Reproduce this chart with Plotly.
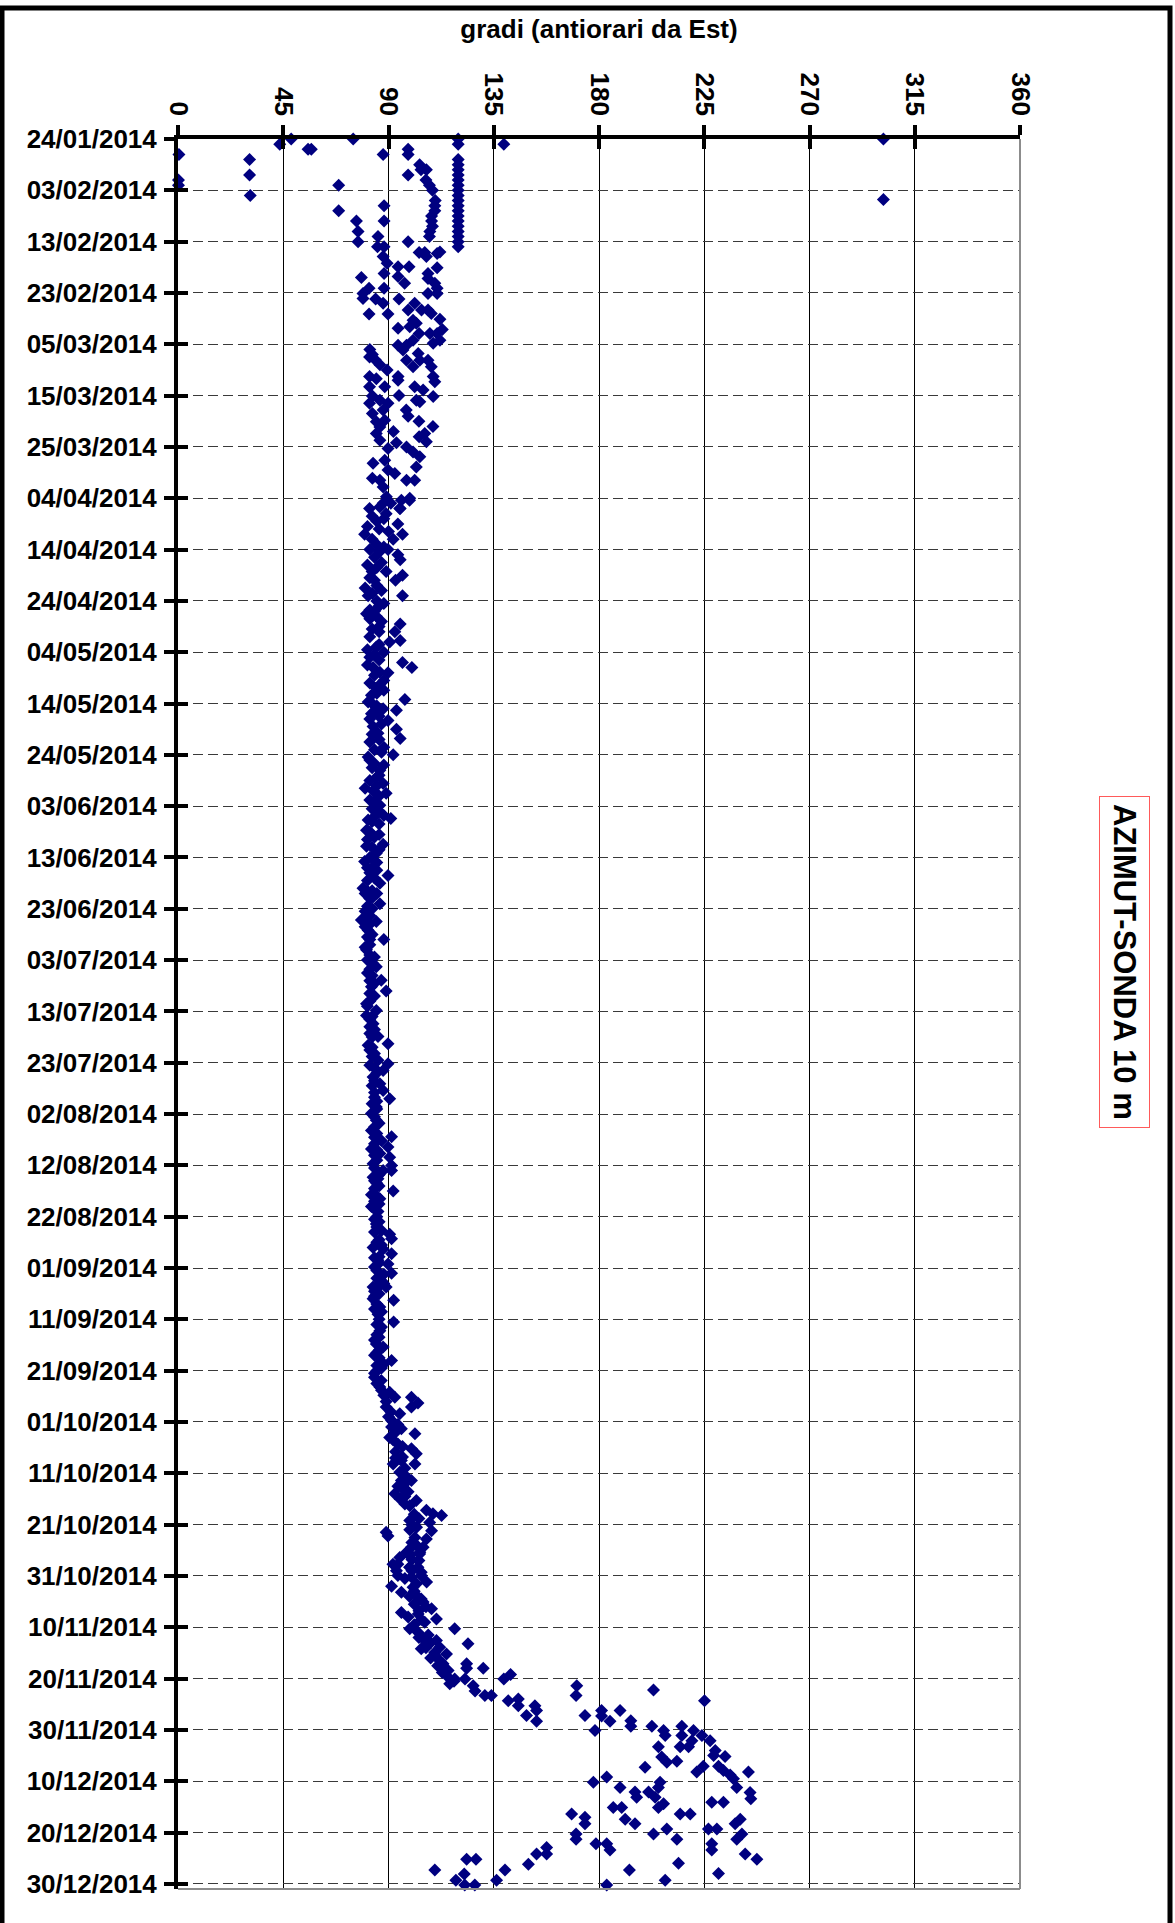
import pandas as pd
import plotly.graph_objects as go

# ---------------- data ----------------
START_DATE = "2014-01-24"
END_DATE = "2014-12-31"
X_TICKS = [0, 45, 90, 135, 180, 225, 270, 315, 360]
TITLE = "gradi (antiorari da Est)"
SERIES_LABEL = "AZIMUT-SONDA 10 m"

# (days after 24/01/2014, azimuth in degrees)
jan_feb = [(0, 48.4), (0, 74.9), (0, 119.8), (0, 301.6), (1, 43.5), (1, 119.8), (1, 139.3),
           (2, 55.6), (2, 57.0), (2, 98.4), (3, 0.4), (3, 87.7), (3, 98.4), (4, 30.6), (4, 119.8),
           (5, 103.3), (5, 119.8), (6, 103.9), (6, 106.2), (6, 119.8), (7, 30.6), (7, 98.4),
           (7, 119.8), (8, 0.2), (8, 106.0), (8, 119.8), (9, 0.2), (9, 68.7), (9, 107.5),
           (9, 119.8), (10, 108.8), (10, 119.8), (11, 30.9), (11.8, 301.6), (11, 119.8),
           (12, 110.0), (12, 119.8), (13, 88.1), (13, 109.8), (13, 119.8), (14, 68.7),
           (14, 109.8), (14, 119.8), (15, 108.4), (15, 119.8), (16, 76.3), (16, 88.1),
           (16, 108.4), (16, 119.8), (17, 108.8), (17, 119.8), (18, 77.0), (18, 107.7),
           (18, 119.8), (19, 85.5), (19, 107.5), (19, 119.8), (20, 77.0), (20, 98.4),
           (20, 119.8), (21, 85.3), (21, 88.1), (21, 119.8)]

feb_mar = [(22.1, 103.1), (22.1, 105.5), (22.9, 106.2), (22.3, 110.8), (22, 112.0), (22.9, 87.7),
           (24.2, 89.4), (24.9, 94.1), (24.9, 98.8), (25.1, 110.8), (26.2, 88.1), (26.2, 106.9),
           (26.8, 94.1), (27, 78.4), (27.2, 106.9), (28.1, 96.9), (28.1, 109.8), (29.1, 81.7),
           (29.1, 88.1), (29.1, 110.8), (30.1, 79.1), (30.1, 106.9), (30.1, 110.8), (31.1, 79.1),
           (31.2, 84.5), (31.2, 94.5), (32, 87.7), (32, 101.2), (33.3, 98.4), (33.3, 104.1),
           (33.3, 106.9), (34, 108.3), (34.1, 81.7), (34.1, 89.8), (35.1, 112.0), (35.3, 100.5),
           (35.9, 101.9), (36.6, 99.1), (36.9, 94.1), (37.1, 113.0), (37.9, 103.1), (37.9, 107.7),
           (37.9, 110.8), (39.2, 100.5), (39.2, 112.0), (39.8, 109.1)]

mar_apr = [(40.2, 97.7), (40.2, 94.1), (41.1, 96.2), (41.8, 102.7), (41.0, 82.0), (42.0, 83.1),
           (42.5, 81.9), (43.0, 84.3), (43.1, 97.7), (43.1, 103.4), (43.1, 106.9), (44.0, 86.3),
           (44.4, 100.5), (44.4, 108.3), (45.0, 89.4), (46.3, 81.9), (46.3, 109.1), (46.7, 84.8),
           (46.3, 94.1), (47.0, 94.1), (47.3, 109.8), (48.3, 101.2), (48.3, 88.4), (48.3, 81.9),
           (48.9, 104.8), (50.1, 83.1), (50.0, 94.5), (50.2, 109.1), (50.9, 101.9), (50.9, 86.3),
           (51.2, 103.4), (51.5, 81.9), (51.5, 89.8), (52.8, 87.7), (52.8, 97.6), (53.5, 83.1),
           (54.0, 98.4), (54.8, 88.4), (55.1, 84.8), (55.0, 103.0), (56.0, 109.0), (56.1, 86.3),
           (57.0, 92.1), (57.4, 84.8), (58.0, 103.1), (57.4, 105.5), (59.0, 106.2), (58.7, 86.3),
           (59.2, 93.4), (60.0, 97.7), (60.3, 89.8), (61.0, 100.5), (61.9, 103.4), (62.6, 88.4),
           (63.2, 83.4), (63.9, 101.9), (64.5, 89.8), (65.2, 92.7), (66.5, 101.2), (66.5, 97.7),
           (66.1, 83.1), (66.5, 86.3), (67.8, 87.7), (69.7, 89.1), (71.7, 86.3), (72.0, 81.9),
           (72.0, 94.8), (70.4, 95.5), (70.0, 99.1), (70.4, 99.0), (71.0, 87.7), (71.0, 91.0),
           (72.0, 95.0), (73.0, 89.0), (74.5, 85.0), (75.0, 94.0), (76.0, 86.0), (77.0, 96.0),
           (77.0, 79.8), (78.0, 92.0), (78.0, 83.0), (73.5, 83.0), (74.0, 88.0), (75.5, 81.0),
           (76.5, 90.0), (79.0, 85.0), (79.5, 88.0)]

apr_jun = [(80, 82.0), (80.4, 86.3), (80, 89.8), (81, 94.0), (82, 95.0), (83, 81.0), (84.3, 83.0),
           (84.3, 89.0), (85, 96.0), (86, 93.0), (86, 84.0), (88, 87.0), (89, 81.3), (89, 96.0),
           (91.8, 82.0), (91, 86.0), (93, 84.8), (92.5, 80.6), (95, 86.0), (97, 82.0), (96, 86.0),
           (94.5, 95.0), (96, 92.7), (97.7, 95.0), (98, 90.5), (99, 84.8), (100, 88.0), (101, 82.0),
           (103, 83.4), (103.9, 86.3), (105.5, 88.0), (104, 89.8), (102, 96.0), (103, 100.0),
           (107, 84.8), (108.4, 82.7), (107.4, 88.0), (109.2, 97.0), (109.7, 81.3), (112, 82.7),
           (111, 87.7), (111.3, 93.4), (114.5, 83.4), (113.3, 89.8), (115, 93.4), (115.8, 85.5),
           (116.8, 95.0), (118.5, 88.0), (120, 92.0), (120.4, 81.3), (121.7, 84.0), (123, 86.3),
           (125, 82.0), (125.6, 87.7), (127, 83.4), (127.5, 89.0), (128.8, 82.0), (129.8, 86.3),
           (124.4, 84.8), (132.7, 81.3), (132, 84.0), (131.8, 88.0), (132.4, 91.0), (134.7, 80.6),
           (136, 84.0), (137.4, 87.7), (137.8, 80.6), (139.2, 84.8), (140.8, 79.8), (141.8, 83.4),
           (143.5, 89.8), (146, 79.1), (145, 86.3), (147.7, 82.7),
           (81.5, 84), (82.5, 87), (83.5, 85), (85.5, 82), (87, 85), (87.5, 80), (88.5, 83),
           (90, 85), (90.5, 88), (92, 84), (93.5, 82), (94, 87), (95.5, 83), (98.5, 86), (99.5, 81),
           (100.5, 84), (101.5, 86), (102.5, 81), (104.5, 84), (106, 82), (106.5, 86), (108, 85),
           (110, 83), (110.5, 85), (111.5, 84), (112.5, 86), (113, 82), (114, 87), (116, 83),
           (117, 86), (117.5, 82), (119, 84), (119.5, 87), (121, 82), (122, 88), (122.5, 83),
           (124, 86), (126, 85), (126.5, 80), (128, 86), (129, 84), (130.5, 83), (131, 86),
           (133, 83), (133.5, 86), (135, 82), (135.5, 86), (136.5, 81), (138, 83), (138.5, 86),
           (140, 82), (141, 85), (142, 81), (142.5, 85), (143, 82), (144, 84), (144.5, 81),
           (146.5, 83), (147, 85)]

jun_aug = [(146.7, 81.3), (147.7, 83.4), (149, 86.3), (152.2, 79.1), (152.2, 78.4), (151.3, 82.0),
           (152.5, 84.8), (154.2, 81.3), (156, 82.0), (156, 88.0), (158, 80.6), (159.4, 84.0),
           (161.8, 82.0), (161.3, 84.8), (163.9, 86.9), (166, 89.0), (165.2, 82.7), (168.5, 80.6),
           (169.8, 84.8), (167.2, 83.4), (170.8, 80.6), (172.4, 83.4), (174.3, 82.0), (174.9, 85.5),
           (176.3, 89.8), (176.6, 81.3), (178.2, 84.0), (179.5, 85.5), (180.5, 82.0), (180.2, 89.8),
           (181.5, 87.7), (182.8, 83.4), (184.1, 86.3), (185.4, 87.7), (187, 90.5), (186.7, 84.0),
           (188.6, 84.8), (189.9, 82.7), (191.2, 84.8), (193.2, 82.7), (194.5, 84.0), (194.4, 91.3),
           (195.2, 87.0), (196.4, 89.8), (196.8, 82.7), (197.7, 86.3), (198.4, 90.5), (199.7, 83.4),
           (200, 91.3), (201, 87.7), (201, 91.3), (202.3, 83.4), (202.6, 85.5), (205, 92.0),
           (205.7, 82.7), (206.5, 86.3), (208, 82.7), (209, 85.5), (211.4, 84.8), (212.7, 87.0),
           (213.4, 90.5), (214.3, 91.3), (216, 83.4), (216.3, 87.7), (217.2, 91.3), (218.5, 85.5),
           (219.8, 84.0), (219.2, 89.8), (221, 91.3), (221.7, 86.3), (223.7, 83.4), (223, 88.0),
           (147, 80), (148, 82), (149.5, 81), (150, 83), (150.5, 80), (153, 82), (153.5, 80),
           (155, 83), (155.5, 81), (157, 82), (157.5, 80), (159, 82), (160, 81), (160.5, 83),
           (162.5, 81), (163, 83), (164, 82), (164.5, 84), (166.5, 82), (167, 84), (168, 82),
           (169, 81), (171, 83), (171.5, 82), (173, 82), (173.5, 84), (175, 83), (177, 83),
           (177.5, 82), (178.8, 83), (181, 84), (182, 85), (183.5, 84), (184.5, 83), (185.8, 84),
           (187.5, 85), (188, 83), (189, 85), (190.5, 84), (191.8, 86), (192.5, 84), (193.8, 85),
           (195.8, 84), (197, 85), (198, 84), (199, 85), (200.5, 84), (201.8, 86), (203, 84),
           (203.5, 85), (204, 86), (204.5, 84), (206, 85), (207, 84), (207.5, 86), (208.5, 84),
           (210, 85), (210.5, 84), (211, 86), (212, 85), (213, 84), (214.5, 86), (215, 85),
           (215.5, 87), (217.8, 86), (218, 84), (219, 86), (220.5, 85), (221.2, 88), (222, 85),
           (222.5, 87), (223.5, 86), (224, 85)]

sep_oct = [(223, 86.3), (223.7, 89.0), (226, 83.4), (226.3, 92.2), (227.6, 86.3), (229, 85.5),
           (230.5, 92.2), (232.2, 86.3), (234.8, 84.8), (235.4, 87.7), (237, 84.0), (238, 91.3),
           (238.7, 88.0), (241.3, 84.0), (241.9, 86.9), (243.2, 86.3), (244.2, 90.5), (245.2, 92.7),
           (245.2, 99.8), (246.3, 102.6), (247.1, 99.8), (247.1, 89.0), (248.4, 94.8), (249.7, 91.3),
           (251, 91.3), (251.3, 95.5), (253, 90.5), (254.3, 94.0), (252.3, 101.3), (255.2, 99.8),
           (256.2, 101.9), (258.2, 92.0), (257.5, 95.5), (258.2, 101.3), (259.8, 94.8),
           (261.4, 99.8), (261.4, 95.5), (264, 92.7), (263.6, 98.4), (265.3, 101.9), (266.3, 99.1),
           (267.2, 106.2), (267.9, 109.0), (268.2, 112.7), (269.2, 99.1), (269.6, 107.6),
           (272.2, 89.8), (271.5, 89.0), (271, 99.1), (271.2, 108.4), (272.5, 101.3), (272.8, 106.2),
           (274.4, 99.8), (274.4, 104.8), (275.4, 97.7), (275.7, 103.3), (278.3, 99.1), (277.7, 94.0),
           (278.3, 102.6), (279.9, 94.0), (279.9, 104.0),
           (224.5, 84), (225, 86), (225.5, 84), (227, 85), (228, 84), (228.5, 87), (230, 86),
           (231, 85), (231.5, 87), (233, 85), (233.5, 86), (234, 84), (236, 86), (236.5, 85),
           (237.5, 86), (239, 85), (239.5, 87), (240, 85), (240.5, 84), (242.5, 85), (243.8, 87),
           (244.8, 88), (246, 89), (248, 91), (249, 90), (250, 92), (250.5, 94), (252, 93),
           (253.5, 92), (254.8, 96), (255.8, 93), (256.8, 96), (257, 93), (259, 97), (260.2, 96),
           (260.8, 98), (262, 97), (262.5, 94), (263, 96), (264.5, 97), (265, 95), (266, 97),
           (268, 101), (268.8, 103), (270, 100), (270.5, 102), (273.5, 100), (274, 102),
           (276, 99), (276.8, 100), (277, 103), (279, 100)]

nov_dec = [(277.7, 91.9), (276.4, 94.8), (275.7, 99.1), (277, 102.7), (275.4, 103.4), (279, 93.4),
           (278.3, 99.1), (279.3, 104.0), (281.2, 106.3), (282, 91.3), (283.2, 95.5), (280.2, 99.8),
           (282.2, 100.5), (283.8, 102.0), (285.1, 104.8), (286.4, 108.4), (287.1, 95.5),
           (288, 98.4), (287.4, 102.7), (289, 105.5), (288.4, 110.5), (290.3, 99.1), (291, 102.7),
           (292.3, 104.8), (294.2, 104.0), (292.6, 110.5), (293.9, 111.9), (294.9, 109.8),
           (295.2, 114.8), (297.1, 113.3), (298.4, 115.5), (300.1, 118.3), (301, 116.2),
           (290.3, 118.3), (293.2, 124.0), (297.1, 123.4), (298, 123.4), (298, 130.5),
           (300.1, 122.7), (301.4, 126.2), (302.4, 127.0), (303.3, 131.2), (303.3, 134.0),
           (300.1, 139.3), (299.2, 142.2), (304.3, 141.2), (304, 145.5), (305.3, 145.5),
           (307.2, 149.0), (305.3, 152.6), (306.2, 153.3), (308.3, 153.3), (301.4, 170.5),
           (303.3, 170.2), (307.2, 174.0), (310.1, 178.3), (306.2, 181.1), (307.3, 181.1),
           (308.3, 184.7), (306.2, 189.0), (308.2, 193.6), (309.3, 193.6), (302.2, 203.3),
           (309.3, 202.6), (304.3, 225.1), (310.1, 207.6), (311.1, 208.3), (309.3, 215.4),
           (311.1, 215.4), (310.1, 220.4), (312.1, 219.7), (313.3, 218.3), (313.3, 214.7),
           (316.1, 213.3), (313.3, 205.4), (315.3, 206.8), (316.3, 209.0), (317.3, 199.7),
           (311.1, 224.0), (312.1, 227.5), (314, 229.7), (315, 229.0), (315.2, 233.9),
           (317.1, 224.6), (318.2, 221.8), (317.1, 231.1), (317.9, 233.2), (318.8, 236.1),
           (319.5, 237.5), (321.2, 238.9), (318.2, 243.9), (319.2, 183.3), (320.2, 177.6),
           (321.2, 189.0), (320.2, 206.1), (321.2, 205.4), (322.1, 195.4), (323.1, 196.1),
           (322.1, 201.2), (323.1, 204.0), (324.4, 207.6), (325.1, 205.4), (325.1, 186.1),
           (325.1, 189.7), (327.4, 191.2), (328.3, 195.4), (326.4, 214.7), (326.4, 219.0),
           (324.1, 228.2), (324.1, 233.2), (322.2, 244.6), (323.4, 244.9), (326.4, 168.3),
           (327, 174.0), (328.3, 174.0), (329.3, 209.0), (330.3, 203.3), (331.3, 213.3),
           (328.3, 238.2), (327.4, 240.4), (329.3, 226.8), (329.3, 230.4), (330.3, 241.1),
           (331.3, 238.9), (330.3, 170.2), (331.3, 170.2), (332.2, 178.7), (332.2, 183.3),
           (333.4, 184.7), (332.2, 228.2), (333.4, 228.2), (334.2, 242.5), (335.2, 247.5),
           (336, 214.0), (338, 231.1), (337.3, 193.0), (339.3, 208.3), (340.2, 183.3),
           (341.3, 216.1), (332.9, 157.6), (334.2, 157.6), (334.2, 153.3), (336.2, 149.8),
           (337.3, 139.8), (339.3, 136.2), (337.3, 109.8), (335.2, 123.4), (335.2, 127.4),
           (338.1, 122.4), (339.3, 118.8), (340.2, 122.6), (340.2, 126.9), (341.3, 113.1),
           (341.3, 118.8),
           (280.5, 97), (281.5, 102), (283, 101), (284, 99), (284.5, 104), (285.5, 101),
           (286, 106), (286.8, 103), (288.5, 104), (289.5, 101), (291.5, 107), (292, 103),
           (293, 108), (294, 106), (295.5, 110), (296, 108), (296.5, 112), (297.5, 111),
           (298.8, 113), (299.5, 115), (300.5, 118)]

segments = [jan_feb, feb_mar, mar_apr, apr_jun, jun_aug, sep_oct, nov_dec]
days = [d for seg in segments for d, _ in seg]
angles = [a for seg in segments for _, a in seg]
dates = pd.Timestamp(START_DATE) + pd.to_timedelta(days, unit="D")

# ---------------- figure ----------------
W, H = 1175, 1923
ML, MR, MT, MB = 178, 155, 139, 34
PW, PH = W - ML - MR, H - MT - MB
FONT = "Liberation Sans, Arial, sans-serif"
TEN_DAYS = 10 * 24 * 3600 * 1000

fig = go.Figure()
fig.add_trace(go.Scatter(
    x=angles, y=dates, mode="markers", cliponaxis=False,
    marker=dict(symbol="diamond", size=10, color="#000080", line=dict(width=0)),
    showlegend=False, hoverinfo="x+y"))
# helper trace carrying the inside half of the crossing tick marks
fig.add_trace(go.Scatter(x=[], y=[], xaxis="x2", yaxis="y2", showlegend=False))

tick_font = dict(family=FONT, size=26, color="black", weight="bold")
yrange = [END_DATE, START_DATE]

fig.update_layout(
    width=W, height=H, autosize=False,
    margin=dict(l=ML, r=MR, t=MT, b=MB, pad=0),
    paper_bgcolor="white", plot_bgcolor="white",
    font=dict(family=FONT, color="black"),
    showlegend=False,
    title=dict(text=TITLE, x=0.5, xref="paper", xanchor="center",
               y=1 - 29 / H, yref="container", yanchor="middle",
               font=dict(family=FONT, size=26, color="black", weight="bold")),
    xaxis=dict(range=[0, 360], side="top", tickmode="array", tickvals=X_TICKS,
               ticktext=[str(v) for v in X_TICKS], tickangle=90,
               ticks="outside", ticklen=10, tickwidth=4, tickcolor="black",
               showline=True, linewidth=4, linecolor="black",
               showgrid=True, gridcolor="black", gridwidth=1, zeroline=False,
               tickfont=tick_font, ticklabelstandoff=0),
    yaxis=dict(type="date", range=yrange, tick0=START_DATE, dtick=TEN_DAYS,
               tickformat="%d/%m/%Y", ticks="outside", ticklen=10, tickwidth=4,
               tickcolor="black", showline=True, linewidth=4, linecolor="black",
               showgrid=True, gridcolor="#3a3a3a", gridwidth=1, griddash="10px,5px",
               zeroline=False, tickfont=tick_font, ticklabelstandoff=2),
    xaxis2=dict(overlaying="x", side="top", anchor="y2", range=[0, 360],
                tickmode="array", tickvals=X_TICKS, ticks="inside", ticklen=10,
                tickwidth=4, tickcolor="black", showticklabels=False,
                showgrid=False, showline=False, zeroline=False),
    yaxis2=dict(overlaying="y", side="left", anchor="x2", type="date", range=yrange,
                tick0=START_DATE, dtick=TEN_DAYS, ticks="inside", ticklen=10,
                tickwidth=4, tickcolor="black", showticklabels=False,
                showgrid=False, showline=False, zeroline=False),
)

# grey plot-area border on the right and bottom
fig.add_shape(type="line", xref="paper", yref="paper", x0=1, x1=1, y0=0, y1=1,
              line=dict(color="#8c8c8c", width=2), layer="above")
fig.add_shape(type="line", xref="paper", yref="paper", x0=0, x1=1, y0=0, y1=0,
              line=dict(color="#8c8c8c", width=2), layer="above")

# outer black frame of the chart
fig.add_shape(type="rect", xref="paper", yref="paper",
              x0=(2 - ML) / PW, x1=(1170 - ML) / PW,
              y0=(H - MB - 1960) / PH, y1=(H - MB - 8) / PH,
              line=dict(color="black", width=5), fillcolor="rgba(0,0,0,0)", layer="above")

# series label in a red box on the right
fig.add_annotation(text=SERIES_LABEL, xref="paper", yref="paper",
                   x=(1125 - ML) / PW, y=(H - MB - 962) / PH,
                   xanchor="center", yanchor="middle",
                   showarrow=False, textangle=90,
                   font=dict(family=FONT, size=31, color="black", weight="bold"),
                   bordercolor="#ff5a5a", borderwidth=1, borderpad=7, bgcolor="white")

fig.write_html("out.html", config={"displayModeBar": False},
               post_script="document.body.style.margin='0';")
